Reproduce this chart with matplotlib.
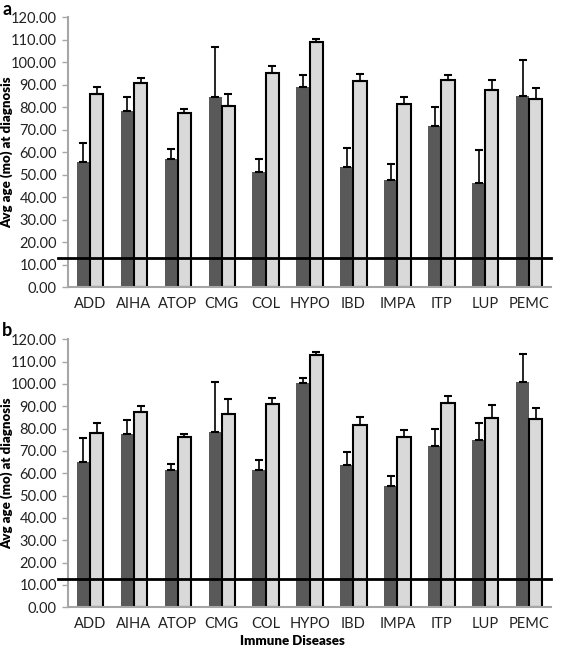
import matplotlib
matplotlib.use("Agg")
import matplotlib.pyplot as plt
import numpy as np

# ============================================================
# DATA
# ============================================================

diseases = ["ADD", "AIHA", "ATOP", "CMG", "COL", "HYPO",
            "IBD", "IMPA", "ITP", "LUP", "PEMC"]

# panel a
a_dark = [55.9, 78.4, 56.9, 84.4, 51.1, 88.9, 53.6, 47.7, 71.6, 46.4, 84.9]
a_dark_err = [8.1, 6.3, 4.4, 22.4, 6.1, 5.3, 8.5, 7.0, 8.7, 14.5, 16.3]
a_light = [85.9, 91.0, 77.6, 80.6, 95.4, 109.2, 91.9, 81.3, 92.0, 87.7, 83.6]
a_light_err = [3.3, 2.2, 1.7, 5.3, 3.0, 1.3, 3.1, 3.1, 2.4, 4.4, 4.8]

# panel b
b_dark = [64.9, 77.6, 61.5, 78.4, 61.5, 100.3, 63.6, 54.3, 72.4, 74.9, 100.7]
b_dark_err = [11.0, 6.3, 2.7, 22.6, 4.6, 2.4, 5.9, 4.6, 7.3, 7.8, 12.7]
b_light = [78.2, 87.5, 76.1, 86.6, 91.0, 112.8, 81.5, 76.4, 91.6, 84.8, 84.2]
b_light_err = [4.3, 2.7, 1.5, 6.5, 2.9, 1.5, 3.7, 3.1, 3.2, 5.6, 5.0]

ref_line = 12.9

# ============================================================
# STYLE
# ============================================================

plt.rcParams["font.family"] = ["Lato", "DejaVu Sans"]

DARK = "#595959"
LIGHT = "#d9d9d9"
GRID = "#a6a6a6"
TEXT = "#222222"


def draw_panel(ax, dark, dark_err, light, light_err, xlabel=None):

    x = np.arange(len(diseases))
    w = 0.3

    ax.bar(x - w / 2, dark, width=w, color=DARK, edgecolor="none",
           yerr=[np.zeros(len(dark)), dark_err],
           error_kw=dict(ecolor="black", elinewidth=1.2, capsize=3, capthick=1.5),
           zorder=2)

    ax.bar(x + w / 2, light, width=w, color=LIGHT, edgecolor="black",
           linewidth=1.5,
           yerr=[np.zeros(len(light)), light_err],
           error_kw=dict(ecolor="black", elinewidth=1.2, capsize=3, capthick=1.5),
           zorder=2)

    # reference line
    ax.plot([-0.72, len(diseases) - 0.5], [ref_line, ref_line],
            color="black", linewidth=2, clip_on=False, zorder=3)

    ax.set_xlim(-0.5, len(diseases) - 0.5)
    ax.set_ylim(0, 120)
    ax.set_yticks(np.arange(0, 121, 10))
    ax.set_yticklabels([f"{v:.2f}" for v in np.arange(0, 121, 10)],
                       fontsize=10.5, color=TEXT)
    ax.set_xticks(x)
    ax.set_xticklabels(diseases, fontsize=10.5, color=TEXT)
    ax.tick_params(axis="x", length=0, pad=7)
    ax.tick_params(axis="y", length=4, color=GRID, width=1, pad=4)

    for side in ["top", "right"]:
        ax.spines[side].set_visible(False)
    for side in ["left", "bottom"]:
        ax.spines[side].set_color(GRID)
        ax.spines[side].set_linewidth(1.5)

    ax.set_ylabel("Avg age (mo) at diagnosis", fontsize=9.5,
                  fontweight="heavy")
    ax.yaxis.set_label_coords(-0.113, 0.5)

    if xlabel:
        ax.set_xlabel(xlabel, fontsize=9.5, fontweight="heavy")
        ax.xaxis.set_label_coords(0.464, -0.105)


fig = plt.figure(figsize=(5.67, 6.51), dpi=100)

ax_a = fig.add_axes([0.120, 0.5587, 0.852, 0.4147])
ax_b = fig.add_axes([0.120, 0.0671, 0.852, 0.4117])

draw_panel(ax_a, a_dark, a_dark_err, a_light, a_light_err)
draw_panel(ax_b, b_dark, b_dark_err, b_light, b_light_err,
           xlabel="Immune Diseases")

fig.text(0.004, 0.998, "a", fontsize=13, fontweight="bold", ha="left", va="top")
fig.text(0.004, 0.506, "b", fontsize=13, fontweight="bold", ha="left", va="top")

fig.savefig("out.png", dpi=100)
plt.close(fig)
